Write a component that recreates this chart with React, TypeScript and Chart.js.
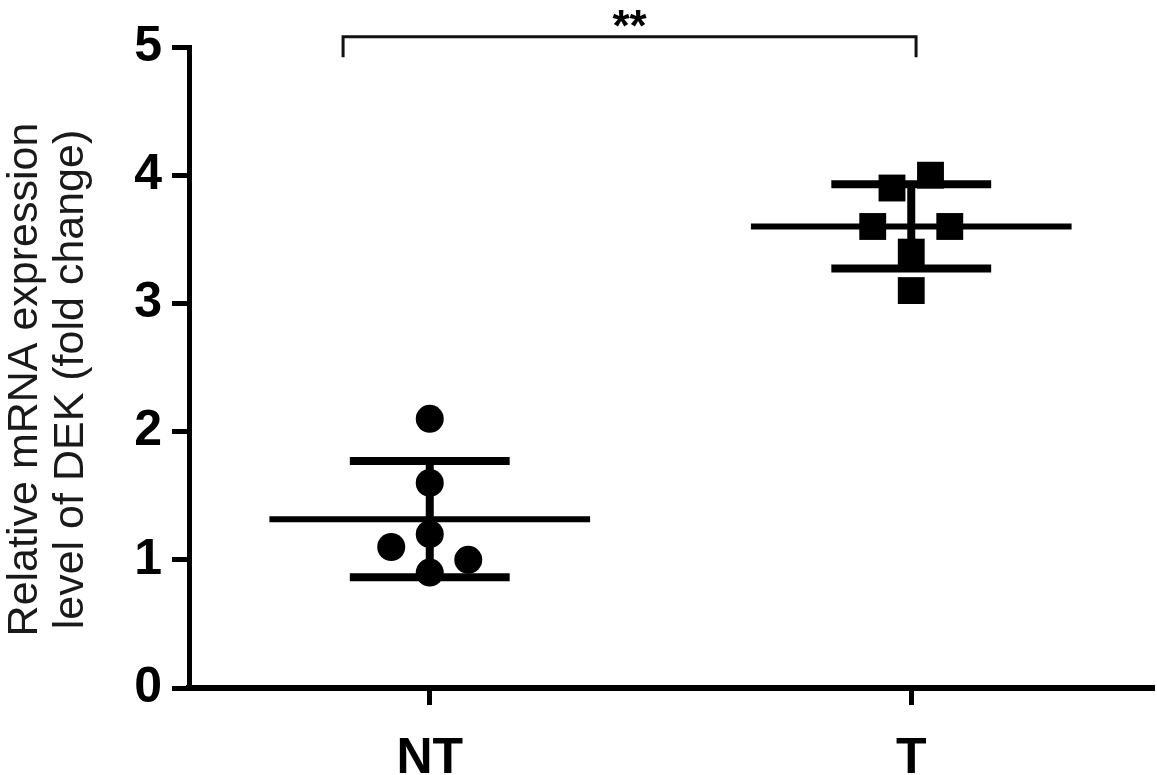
import React, { useEffect, useRef } from "react";
import { Chart, registerables } from "chart.js";

Chart.register(...registerables);

// ---- data ----
const categories = ["NT", "T"];
const ntValues = [2.1, 1.6, 1.2, 1.1, 1.0, 0.9];
const ntJitter = [0, 0, 0, -0.08, 0.08, 0];
const tValues = [4.0, 3.9, 3.6, 3.6, 3.4, 3.1];
const tJitter = [0.04, -0.04, -0.08, 0.08, 0, 0];
const yTicks = [0, 1, 2, 3, 4, 5];
const yTitle = ["Relative mRNA expression", "level of DEK (fold change)"];
const significance = "**";
const bracketXs = [-0.18, 1.01];
const bracketTop = 5.08;
const bracketTip = 4.92;
const starY = 5.05;

const MEAN_HALF = 0.333;
const SD_HALF = 0.166;

function mean(a: number[]) {
  return a.reduce((s, v) => s + v, 0) / a.length;
}
function sd(a: number[]) {
  const m = mean(a);
  return Math.sqrt(a.reduce((s, v) => s + (v - m) * (v - m), 0) / (a.length - 1));
}

const FONT = "'Liberation Sans', Arial, Helvetica, sans-serif";

function groupDatasets(values: number[], idx: number) {
  const m = mean(values);
  const s = sd(values);
  const base = {
    showLine: true,
    pointRadius: 0,
    borderColor: "#000",
    borderCapStyle: "butt" as const,
    order: 1,
  };
  return [
    { ...base, label: categories[idx] + " mean", borderWidth: 6, data: [{ x: idx - MEAN_HALF, y: m }, { x: idx + MEAN_HALF, y: m }] },
    { ...base, label: categories[idx] + " +SD", borderWidth: 8, data: [{ x: idx - SD_HALF, y: m + s }, { x: idx + SD_HALF, y: m + s }] },
    { ...base, label: categories[idx] + " -SD", borderWidth: 8, data: [{ x: idx - SD_HALF, y: m - s }, { x: idx + SD_HALF, y: m - s }] },
    { ...base, label: categories[idx] + " SD", borderWidth: 8, data: [{ x: idx, y: m - s }, { x: idx, y: m + s }] },
  ];
}

const textPlugin = {
  id: "textPlugin",
  afterDatasetsDraw(chart: any) {
    const { ctx, scales } = chart;
    const x = scales.x.getPixelForValue((bracketXs[0] + bracketXs[1]) / 2);
    const y = scales.y.getPixelForValue(starY);
    ctx.save();
    ctx.font = `bold 44px ${FONT}`;
    ctx.fillStyle = "#000";
    ctx.textAlign = "center";
    ctx.textBaseline = "alphabetic";
    ctx.fillText(significance, x, y);
    ctx.restore();

    // y-axis title (two lines, rotated)
    const cy = (chart.chartArea.top + chart.chartArea.bottom) / 2 + 12;
    const baselines = [37, 83];
    ctx.save();
    ctx.font = `normal 43px ${FONT}`;
    ctx.fillStyle = "#1a1a1a";
    ctx.textAlign = "center";
    ctx.textBaseline = "alphabetic";
    yTitle.forEach((line, i) => {
      ctx.save();
      ctx.translate(baselines[i], cy);
      ctx.rotate(-Math.PI / 2);
      ctx.fillText(line, 0, 0);
      ctx.restore();
    });
    ctx.restore();
  },
};

export default function App() {
  const ref = useRef<HTMLCanvasElement | null>(null);

  useEffect(() => {
    document.body.style.margin = "0";
    document.body.style.overflow = "hidden";
    if (!ref.current) return;
    const chart = new Chart(ref.current, {
      type: "scatter",
      data: {
        datasets: [
          {
            label: "NT",
            data: ntValues.map((v, i) => ({ x: 0 + ntJitter[i], y: v })),
            pointStyle: "circle",
            pointRadius: 14,
            pointBorderWidth: 0,
            backgroundColor: "#000",
            borderColor: "#000",
            order: 0,
          },
          {
            label: "T",
            data: tValues.map((v, i) => ({ x: 1 + tJitter[i], y: v })),
            pointStyle: "rect",
            pointRadius: 19,
            pointBorderWidth: 0,
            backgroundColor: "#000",
            borderColor: "#000",
            order: 0,
          },
          ...groupDatasets(ntValues, 0),
          ...groupDatasets(tValues, 1),
          {
            label: "bracket",
            showLine: true,
            pointRadius: 0,
            borderColor: "#111",
            borderWidth: 3,
            clip: false as any,
            order: 1,
            data: [
              { x: bracketXs[0], y: bracketTip },
              { x: bracketXs[0], y: bracketTop },
              { x: bracketXs[1], y: bracketTop },
              { x: bracketXs[1], y: bracketTip },
            ],
          },
        ] as any,
      },
      options: {
        animation: false,
        responsive: false,
        devicePixelRatio: 1,
        events: [],
        layout: { autoPadding: false, padding: { top: 47, right: 5, left: 0, bottom: 0 } },
        plugins: {
          legend: { display: false },
          tooltip: { enabled: false },
        },
        scales: {
          x: {
            type: "linear",
            min: -0.5,
            max: 1.5,
            afterBuildTicks: (scale: any) => {
              scale.ticks = categories.map((_, i) => ({ value: i }));
            },
            afterFit: (scale: any) => {
              scale.height = 87;
              scale.paddingLeft = 0;
              scale.paddingRight = 0;
            },
            ticks: {
              callback: (v: any) => categories[v] ?? "",
              color: "#000",
              font: { family: FONT, size: 50, weight: "bold", lineHeight: 0.8 },
              padding: 34,
              maxRotation: 0,
            },
            grid: {
              drawOnChartArea: false,
              drawTicks: true,
              tickLength: 17,
              tickWidth: 5,
              tickColor: "#000",
              lineWidth: 5,
              color: "#000",
            },
            border: { display: true, color: "#000", width: 6 },
          },
          y: {
            type: "linear",
            min: 0,
            max: 5,
            afterBuildTicks: (scale: any) => {
              scale.ticks = yTicks.map((v) => ({ value: v }));
            },
            afterFit: (scale: any) => {
              scale.width = 189;
            },
            ticks: {
              color: "#000",
              font: { family: FONT, size: 50, weight: "bold" },
              padding: 10,
            },
            grid: {
              drawOnChartArea: false,
              drawTicks: true,
              tickLength: 17,
              tickWidth: 5,
              tickColor: "#000",
              lineWidth: 5,
              color: "#000",
            },
            border: { display: true, color: "#000", width: 5 },
          },
        },
      },
      plugins: [textPlugin],
    });
    return () => chart.destroy();
  }, []);

  return (
    <div style={{ width: 1157, height: 775, position: "relative", overflow: "hidden" }}>
      <canvas ref={ref} width={1157} height={775} style={{ display: "block", width: 1157, height: 775 }} />
    </div>
  );
}
